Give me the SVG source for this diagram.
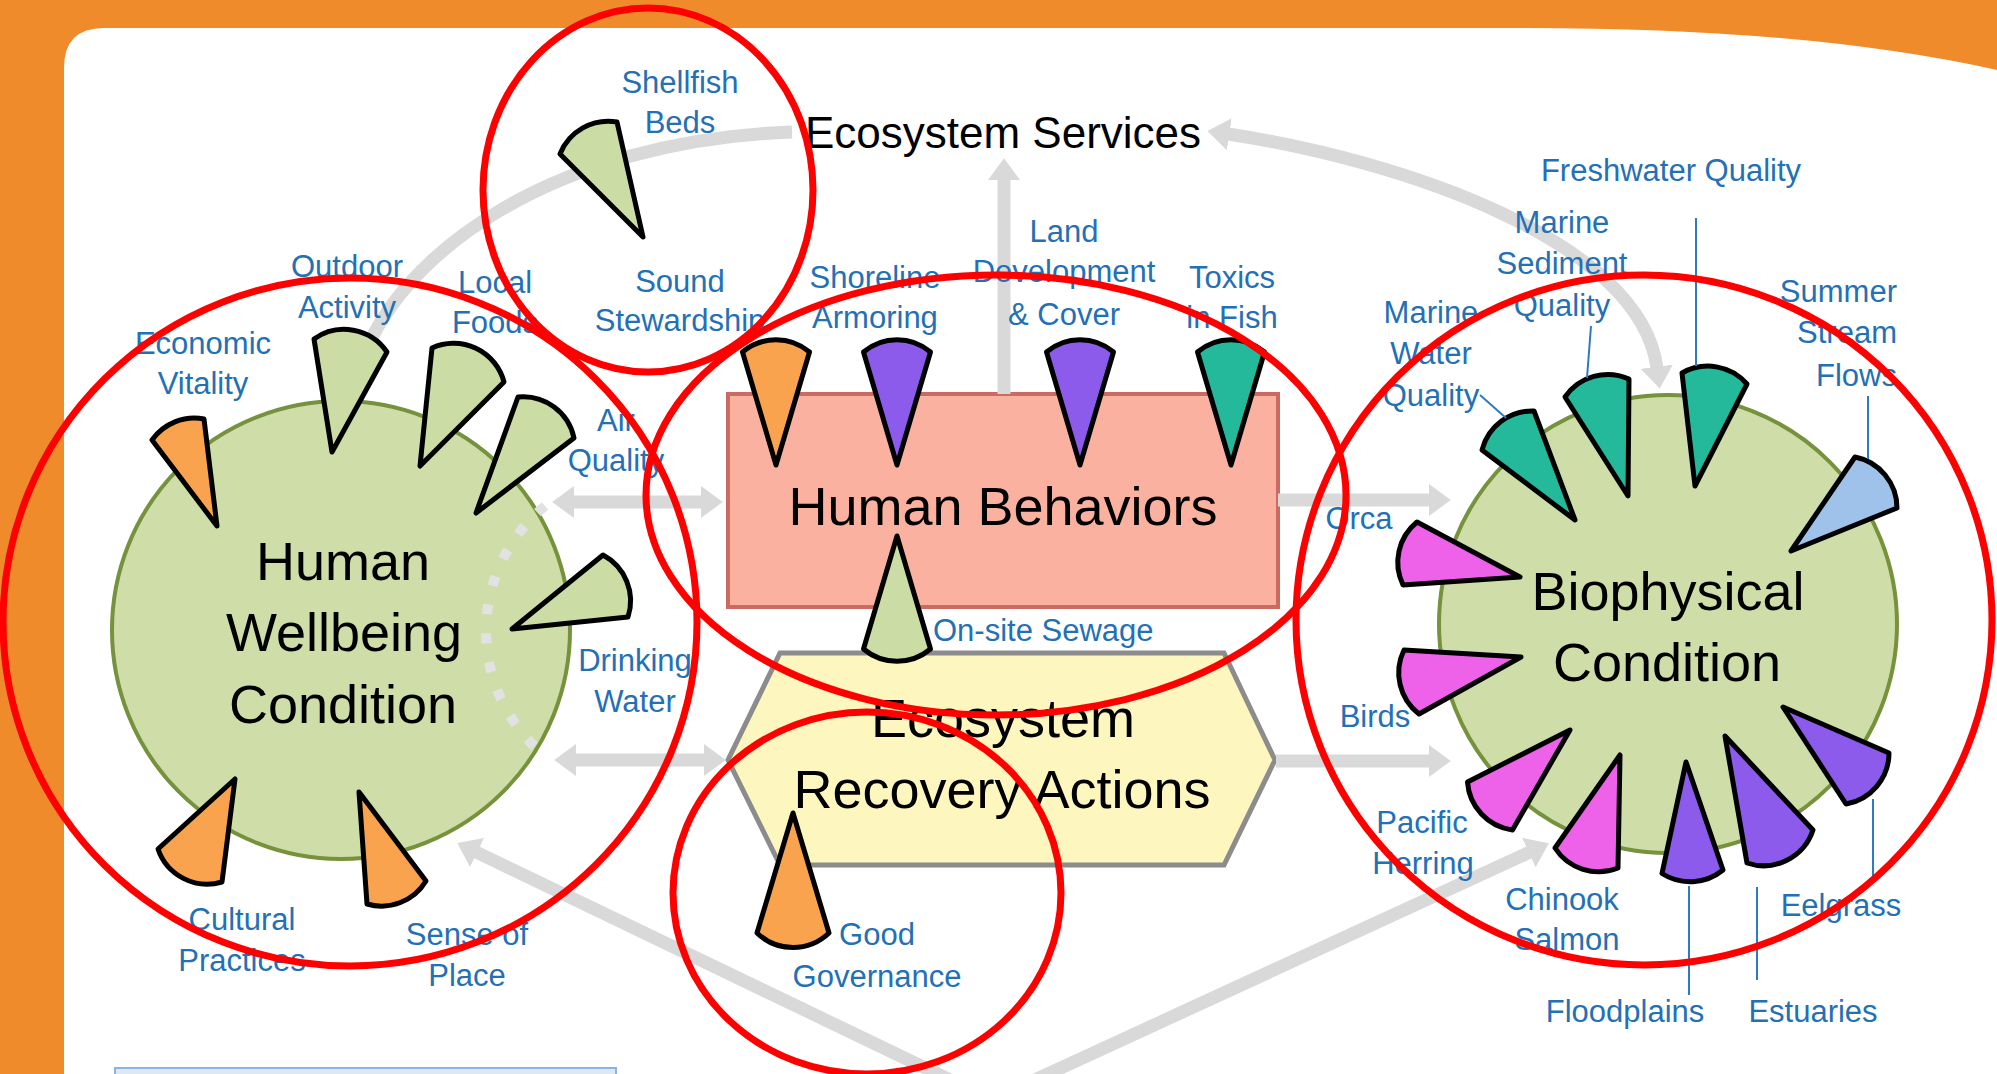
<svg xmlns="http://www.w3.org/2000/svg" width="1997" height="1074" viewBox="0 0 1997 1074">
<defs>
<style>
.lbl{font-family:"Liberation Sans",Arial,sans-serif;font-size:31px;fill:#2470B5;text-anchor:middle}
.ttl{font-family:"Liberation Sans",Arial,sans-serif;font-size:54px;fill:#000;text-anchor:middle}
.conn{fill:none;stroke:#D9D9D9;stroke-width:13}
.lead{stroke:#2E7BC0;stroke-width:2;fill:none}
.w{stroke:#000;stroke-width:5;stroke-linejoin:round}
.g{fill:#CCDCA5}.o{fill:#F9A34F}.p{fill:#8C5BEB}.t{fill:#25B99B}.m{fill:#EE62E9}.b{fill:#9EC2E9}
.red{fill:none;stroke:#FF0000;stroke-width:7}
</style>
<marker id="ah" viewBox="0 0 17 25" refX="1" refY="12.5" markerWidth="1.7" markerHeight="2.5" orient="auto-start-reverse" markerUnits="strokeWidth">
<path d="M0,0 L17,12.5 L0,25 Z" fill="#D9D9D9"/>
</marker>
</defs>
<rect x="0" y="0" width="1997" height="1074" fill="#EF8B2B"/>
<path d="M64,1074 L64,68 Q64,28 104,28 L1500,28 Q1800,26 1997,70 L1997,1074 Z" fill="#FFFFFF"/>
<rect x="115" y="1068" width="501" height="20" fill="#DDE8F5" stroke="#8DB3E2" stroke-width="2"/>

<g id="main-nodes">
<g id="human-wellbeing"><circle cx="341" cy="630" r="229" fill="#CFDDA8" stroke="#76923C" stroke-width="4"/></g>
<g id="human-behaviors"><rect x="728" y="394" width="550" height="213" fill="#FAB1A0" stroke="#CB6A62" stroke-width="4"/></g>
<g id="recovery-actions"><polygon points="780,653 1224,653 1275,760 1224,865 780,865 728,760" fill="#FDF7BF" stroke="#8C8C8C" stroke-width="5"/></g>
<g id="biophysical"><circle cx="1668" cy="624" r="229" fill="#CFDDA8" stroke="#76923C" stroke-width="4"/></g>
</g>

<g id="connectors">
<path class="conn" d="M358,372 C395,250 560,140 792,132" stroke-width="12"/>
<path class="conn" d="M1228,134 C1400,160 1640,240 1657,368" stroke-width="12" marker-start="url(#ah)" marker-end="url(#ah)"/>
<path class="conn" d="M1004,394 L1004,179" marker-end="url(#ah)"/>
<path class="conn" d="M573,502 L702,502" marker-start="url(#ah)" marker-end="url(#ah)"/>
<path class="conn" d="M575,760 L705,760" marker-start="url(#ah)" marker-end="url(#ah)"/>
<path class="conn" d="M1278,500 L1430,500" marker-end="url(#ah)"/>
<path class="conn" d="M1276,761 L1430,761" marker-end="url(#ah)"/>
<path class="conn" d="M1100,1152 L476,852" stroke-width="12" marker-end="url(#ah)"/>
<path class="conn" d="M900,1142 L1530,852" stroke-width="12" marker-end="url(#ah)"/>
<path d="M545,506 A162,162 0 0 0 545,756" fill="none" stroke="#E2E2E2" stroke-width="10" stroke-dasharray="10 19"/>
</g>

<g id="titles">
<text class="ttl" x="1003" y="148" style="font-size:44px">Ecosystem Services</text>
<text class="ttl" x="343" y="580">Human</text>
<text class="ttl" x="344" y="651">Wellbeing</text>
<text class="ttl" x="343" y="723">Condition</text>
<text class="ttl" x="1003" y="525">Human Behaviors</text>
<text class="ttl" x="1003" y="737">Ecosystem</text>
<text class="ttl" x="1002" y="808">Recovery Actions</text>
<text class="ttl" x="1668" y="610">Biophysical</text>
<text class="ttl" x="1667" y="681">Condition</text>
</g>

<g id="economic-vitality"><path class="w o" d="M217,526 L152,440 A52,52 0 0 1 204,419 Z"/><text class="lbl" x="203" y="354">Economic</text><text class="lbl" x="203" y="394">Vitality</text></g>
<g id="outdoor-activity"><path class="w g" d="M332,452 L314,339 A52,52 0 0 1 387,352 Z"/><text class="lbl" x="347" y="277">Outdoor</text><text class="lbl" x="347" y="318">Activity</text></g>
<g id="local-foods"><path class="w g" d="M420,466 L432,348 A52,52 0 0 1 504,382 Z"/><text class="lbl" x="495" y="293">Local</text><text class="lbl" x="495" y="333">Foods</text></g>
<g id="air-quality"><path class="w g" d="M476,513 L518,397 A52,52 0 0 1 574,438 Z"/><text class="lbl" x="616" y="431">Air</text><text class="lbl" x="616" y="471">Quality</text></g>
<g id="drinking-water"><path class="w g" d="M512,629 L603,555 A52,52 0 0 1 628,617 Z"/><text class="lbl" x="635" y="671">Drinking</text><text class="lbl" x="635" y="712">Water</text></g>
<g id="cultural-practices"><path class="w o" d="M235,779 L222,882 A52,52 0 0 1 158,849 Z"/><text class="lbl" x="242" y="930">Cultural</text><text class="lbl" x="242" y="971">Practices</text></g>
<g id="sense-of-place"><path class="w o" d="M359,792 L426,881 A52,52 0 0 1 367,904 Z"/><text class="lbl" x="467" y="945">Sense of</text><text class="lbl" x="467" y="986">Place</text></g>

<g id="shellfish-beds"><path class="w g" d="M643,237 L560,154 A52,52 0 0 1 617,122 Z"/><text class="lbl" x="680" y="93">Shellfish</text><text class="lbl" x="680" y="133">Beds</text></g>
<g id="sound-stewardship"><text class="lbl" x="680" y="292">Sound</text><text class="lbl" x="680" y="331">Stewardship</text></g>

<g id="shoreline-armoring"><path class="w o" d="M776,465 L742.5,352 A52,52 0 0 1 809.5,352 Z"/><path class="w p" d="M897,465 L863.5,352 A52,52 0 0 1 930.5,352 Z"/><text class="lbl" x="875" y="288">Shoreline</text><text class="lbl" x="875" y="328">Armoring</text></g>
<g id="land-development"><path class="w p" d="M1080,465 L1046.5,352 A52,52 0 0 1 1113.5,352 Z"/><text class="lbl" x="1064" y="242">Land</text><text class="lbl" x="1064" y="282">Development</text><text class="lbl" x="1064" y="325">&amp; Cover</text></g>
<g id="toxics-in-fish"><path class="w t" d="M1231,465 L1197.5,352 A52,52 0 0 1 1264.5,352 Z"/><text class="lbl" x="1232" y="288">Toxics</text><text class="lbl" x="1232" y="328">in Fish</text></g>
<g id="onsite-sewage"><path class="w g" d="M897,536 L930.5,649 A52,52 0 0 1 863.5,649 Z"/><text class="lbl" x="933" y="641" style="text-anchor:start">On-site Sewage</text></g>
<g id="good-governance"><path class="w o" d="M793,813 L829,933 A52,52 0 0 1 757,933 Z"/><text class="lbl" x="877" y="945">Good</text><text class="lbl" x="877" y="987">Governance</text></g>

<g id="marine-water-quality"><path class="w t" d="M1575,520 L1482,450 A52,52 0 0 1 1534,411 Z"/><text class="lbl" x="1431" y="323">Marine</text><text class="lbl" x="1431" y="364">Water</text><text class="lbl" x="1431" y="406">Quality</text><path class="lead" d="M1480,395 L1506,418"/></g>
<g id="marine-sediment-quality"><path class="w t" d="M1628,496 L1565,397 A52,52 0 0 1 1629,379 Z"/><text class="lbl" x="1562" y="233">Marine</text><text class="lbl" x="1562" y="274">Sediment</text><text class="lbl" x="1562" y="316">Quality</text><path class="lead" d="M1591,326 L1587,378"/></g>
<g id="freshwater-quality"><path class="w t" d="M1695,486 L1682,373 A52,52 0 0 1 1747,384 Z"/><text class="lbl" x="1671" y="181">Freshwater Quality</text><path class="lead" d="M1696,218 L1696,366"/></g>
<g id="summer-stream-flows"><path class="w b" d="M1791,551 L1855,457 A52,52 0 0 1 1897,508 Z"/><text class="lbl" x="1897" y="302" style="text-anchor:end">Summer</text><text class="lbl" x="1897" y="343" style="text-anchor:end">Stream</text><text class="lbl" x="1897" y="386" style="text-anchor:end">Flows</text><path class="lead" d="M1868,396 L1868,459"/></g>
<g id="orca"><path class="w m" d="M1520,577 L1403,585 A52,52 0 0 1 1417,522 Z"/><text class="lbl" x="1359" y="529">Orca</text></g>
<g id="birds"><path class="w m" d="M1521,657 L1419,714 A52,52 0 0 1 1404,650 Z"/><text class="lbl" x="1375" y="727">Birds</text></g>
<g id="pacific-herring"><path class="w m" d="M1570,730 L1512.5,830 A52,52 0 0 1 1467.5,782 Z"/><text class="lbl" x="1422" y="833">Pacific</text><text class="lbl" x="1423" y="874">Herring</text></g>
<g id="chinook-salmon"><path class="w m" d="M1620,755 L1618,868 A52,52 0 0 1 1555,848 Z"/><text class="lbl" x="1562" y="910">Chinook</text><text class="lbl" x="1567" y="950">Salmon</text></g>
<g id="floodplains"><path class="w p" d="M1686,762 L1723,870 A52,52 0 0 1 1662,873.5 Z"/><text class="lbl" x="1625" y="1022">Floodplains</text><path class="lead" d="M1689,886 L1689,995"/></g>
<g id="estuaries"><path class="w p" d="M1725,736 L1813,830 A52,52 0 0 1 1747,863 Z"/><text class="lbl" x="1813" y="1022">Estuaries</text><path class="lead" d="M1757,887 L1757,980"/></g>
<g id="eelgrass"><path class="w p" d="M1783,707 L1889,753 A52,52 0 0 1 1846,804 Z"/><text class="lbl" x="1841" y="916">Eelgrass</text><path class="lead" d="M1873,799 L1873,876"/></g>

<g id="highlights">
<ellipse class="red" cx="648" cy="190" rx="165" ry="182"/>
<ellipse class="red" cx="350" cy="622" rx="347" ry="344"/>
<ellipse class="red" cx="996" cy="495" rx="350" ry="220"/>
<ellipse class="red" cx="867" cy="893" rx="194" ry="181"/>
<ellipse class="red" cx="1644" cy="620" rx="348" ry="345"/>
</g>
</svg>
